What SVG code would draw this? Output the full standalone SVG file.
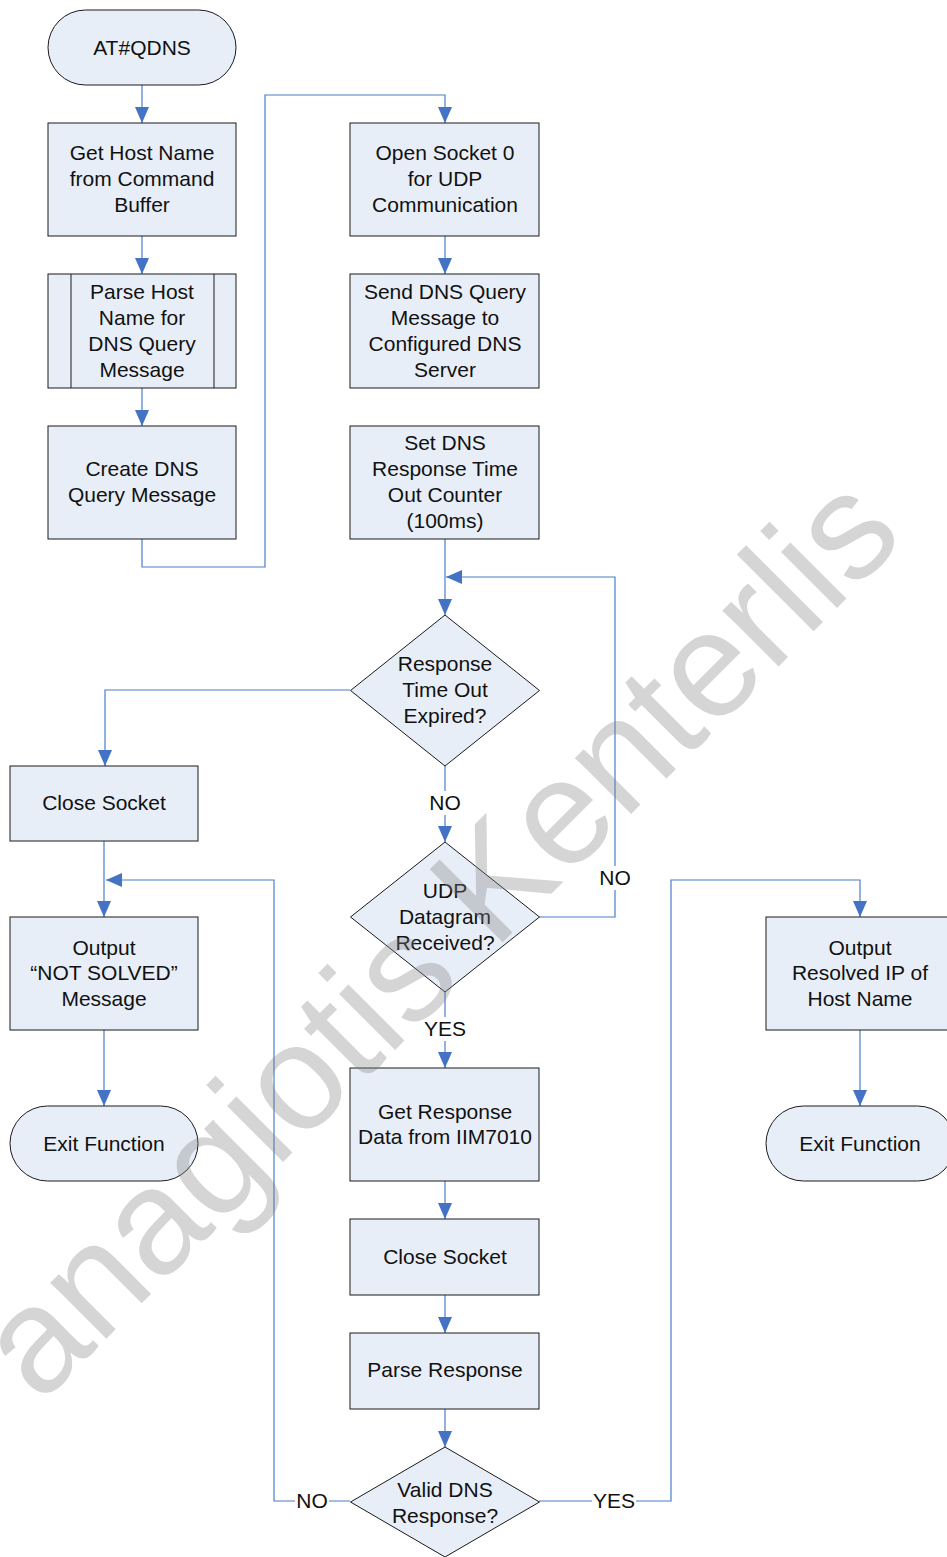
<svg xmlns="http://www.w3.org/2000/svg" width="947" height="1557" viewBox="0 0 947 1557">
  <style>
    .shape { fill: #E8EEF7; stroke: #1A1A1A; stroke-width: 1; }
    .inner { fill: none; stroke: #1A1A1A; stroke-width: 1; }
    .txt { font-family: "Liberation Sans", Arial, sans-serif; font-size: 21px; fill: #111; text-anchor: middle; }
    .wire { fill: none; stroke: #4A7EC8; stroke-width: 1.2; marker-end: url(#arrow); }
    .plain { fill: none; stroke: #4A7EC8; stroke-width: 1.2; }
    .lblbg { fill: #FFFFFF; }
    .mark { font-family: "Liberation Sans", Arial, sans-serif; font-size: 150px; fill: #808080; fill-opacity: 0.33; }
  </style>
  <defs>
    <marker id="arrow" viewBox="0 0 16 14" refX="16" refY="7" markerWidth="16" markerHeight="14" markerUnits="userSpaceOnUse" orient="auto">
      <path d="M0,0 L16,7 L0,14 Z" fill="#4472C4"/>
    </marker>
  </defs>
  <rect width="947" height="1557" fill="#FFFFFF"/>

  <!-- connectors -->
  <g id="connectors">
    <path class="wire" d="M142,85 V123"/>
    <path class="wire" d="M142,236 V274"/>
    <path class="wire" d="M142,388 V426"/>
    <path class="wire" d="M142,539 V567 H265 V95 H445 V123"/>
    <path class="wire" d="M445,236 V274"/>
    <path class="wire" d="M445,539 V615"/>
    <path class="wire" d="M539,917 H615 V577 H446"/>
    <path class="wire" d="M350,690 H105 V766"/>
    <path class="wire" d="M445,766 V842"/>
    <path class="wire" d="M445,992 V1068"/>
    <path class="wire" d="M445,1181 V1219"/>
    <path class="wire" d="M445,1295 V1333"/>
    <path class="wire" d="M445,1409 V1447"/>
    <path class="wire" d="M350,1501 H274 V880 H106"/>
    <path class="wire" d="M104,841 V917"/>
    <path class="wire" d="M104,1030 V1106"/>
    <path class="wire" d="M539,1501 H671 V880 H860 V917"/>
    <path class="wire" d="M860,1030 V1106"/>
    <!-- branch labels -->
    <rect class="lblbg" x="428" y="791" width="34" height="24"/>
    <text class="txt" x="445" y="810">NO</text>
    <rect class="lblbg" x="423" y="1017" width="44" height="24"/>
    <text class="txt" x="445" y="1036">YES</text>
    <rect class="lblbg" x="598" y="866" width="34" height="24"/>
    <text class="txt" x="615" y="885">NO</text>
    <rect class="lblbg" x="295" y="1489" width="34" height="24"/>
    <text class="txt" x="312" y="1508">NO</text>
    <rect class="lblbg" x="592" y="1489" width="44" height="24"/>
    <text class="txt" x="614" y="1508">YES</text>
  </g>

  <!-- left column -->
  <g id="start">
    <rect class="shape" x="48" y="10" width="188" height="75" rx="37.5" ry="37.5"/>
    <text class="txt" x="142" y="55">AT#QDNS</text>
  </g>
  <g id="get-host">
    <rect class="shape" x="48" y="123" width="188" height="113"/>
    <text class="txt" x="142" y="160">Get Host Name</text>
    <text class="txt" x="142" y="186">from Command</text>
    <text class="txt" x="142" y="212">Buffer</text>
  </g>
  <g id="parse-host">
    <rect class="shape" x="48" y="274" width="188" height="114"/>
    <path class="inner" d="M71,274 V388 M214,274 V388"/>
    <text class="txt" x="142" y="299">Parse Host</text>
    <text class="txt" x="142" y="325">Name for</text>
    <text class="txt" x="142" y="351">DNS Query</text>
    <text class="txt" x="142" y="377">Message</text>
  </g>
  <g id="create-query">
    <rect class="shape" x="48" y="426" width="188" height="113"/>
    <text class="txt" x="142" y="476">Create DNS</text>
    <text class="txt" x="142" y="502">Query Message</text>
  </g>
  <g id="close-socket-a">
    <rect class="shape" x="10" y="766" width="188" height="75"/>
    <text class="txt" x="104" y="810">Close Socket</text>
  </g>
  <g id="not-solved">
    <rect class="shape" x="10" y="917" width="188" height="113"/>
    <text class="txt" x="104" y="955">Output</text>
    <text class="txt" x="104" y="980">“NOT SOLVED”</text>
    <text class="txt" x="104" y="1006">Message</text>
  </g>
  <g id="exit-a">
    <rect class="shape" x="10" y="1106" width="188" height="75" rx="37.5" ry="37.5"/>
    <text class="txt" x="104" y="1151">Exit Function</text>
  </g>

  <!-- centre column -->
  <g id="open-socket">
    <rect class="shape" x="350" y="123" width="189" height="113"/>
    <text class="txt" x="445" y="160">Open Socket 0</text>
    <text class="txt" x="445" y="186">for UDP</text>
    <text class="txt" x="445" y="212">Communication</text>
  </g>
  <g id="send-query">
    <rect class="shape" x="350" y="274" width="189" height="114"/>
    <text class="txt" x="445" y="299">Send DNS Query</text>
    <text class="txt" x="445" y="325">Message to</text>
    <text class="txt" x="445" y="351">Configured DNS</text>
    <text class="txt" x="445" y="377">Server</text>
  </g>
  <g id="set-timeout">
    <rect class="shape" x="350" y="426" width="189" height="113"/>
    <text class="txt" x="445" y="450">Set DNS</text>
    <text class="txt" x="445" y="476">Response Time</text>
    <text class="txt" x="445" y="502">Out Counter</text>
    <text class="txt" x="445" y="528">(100ms)</text>
  </g>
  <g id="timeout-check">
    <polygon class="shape" points="445,615 539.5,690.5 445,766 350.5,690.5"/>
    <text class="txt" x="445" y="671">Response</text>
    <text class="txt" x="445" y="697">Time Out</text>
    <text class="txt" x="445" y="723">Expired?</text>
  </g>
  <g id="datagram-check">
    <polygon class="shape" points="445,842 539.5,917 445,992 350.5,917"/>
    <text class="txt" x="445" y="898">UDP</text>
    <text class="txt" x="445" y="924">Datagram</text>
    <text class="txt" x="445" y="950">Received?</text>
  </g>
  <g id="get-response">
    <rect class="shape" x="350" y="1068" width="189" height="113"/>
    <text class="txt" x="445" y="1119">Get Response</text>
    <text class="txt" x="445" y="1144">Data from IIM7010</text>
  </g>
  <g id="close-socket-b">
    <rect class="shape" x="350" y="1219" width="189" height="76"/>
    <text class="txt" x="445" y="1264">Close Socket</text>
  </g>
  <g id="parse-response">
    <rect class="shape" x="350" y="1333" width="189" height="76"/>
    <text class="txt" x="445" y="1377">Parse Response</text>
  </g>
  <g id="valid-check">
    <polygon class="shape" points="445,1447 539.5,1502 445,1557 350.5,1502"/>
    <text class="txt" x="445" y="1497">Valid DNS</text>
    <text class="txt" x="445" y="1523">Response?</text>
  </g>

  <!-- right column -->
  <g id="resolved-ip">
    <rect class="shape" x="766" y="917" width="189" height="113"/>
    <text class="txt" x="860" y="955">Output</text>
    <text class="txt" x="860" y="980">Resolved IP of</text>
    <text class="txt" x="860" y="1006">Host Name</text>
  </g>
  <g id="exit-b">
    <rect class="shape" x="766" y="1106" width="189" height="75" rx="37.5" ry="37.5"/>
    <text class="txt" x="860" y="1151">Exit Function</text>
  </g>

  <!-- watermark -->
  <text class="mark" transform="translate(40,1405) rotate(-45)">anagiotis Kenterlis</text>
</svg>
